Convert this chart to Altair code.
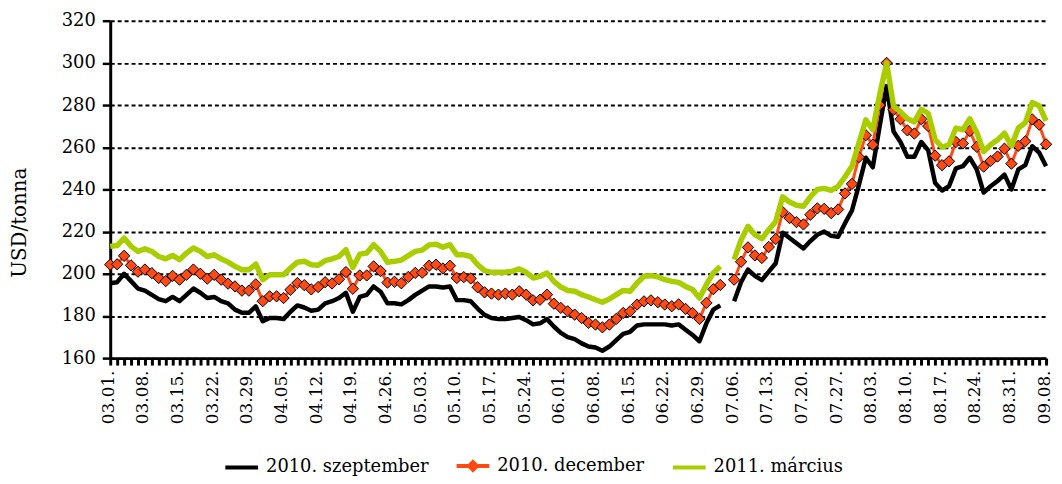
import json
import altair as alt
import pandas as pd

dates = [
    "03.01.", "03.02.", "03.03.", "03.04.", "03.05.", "03.08.", "03.09.", "03.10.", "03.11.", "03.12.",
    "03.15.", "03.16.", "03.17.", "03.18.", "03.19.", "03.22.", "03.23.", "03.24.", "03.25.", "03.26.",
    "03.29.", "03.30.", "03.31.", "04.01.", "04.02.", "04.05.", "04.06.", "04.07.", "04.08.", "04.09.",
    "04.12.", "04.13.", "04.14.", "04.15.", "04.16.", "04.19.", "04.20.", "04.21.", "04.22.", "04.23.",
    "04.26.", "04.27.", "04.28.", "04.29.", "04.30.", "05.03.", "05.04.", "05.05.", "05.06.", "05.07.",
    "05.10.", "05.11.", "05.12.", "05.13.", "05.14.", "05.17.", "05.18.", "05.19.", "05.20.", "05.21.",
    "05.24.", "05.25.", "05.26.", "05.27.", "05.28.", "06.01.", "06.02.", "06.03.", "06.04.", "06.07.",
    "06.08.", "06.09.", "06.10.", "06.11.", "06.14.", "06.15.", "06.16.", "06.17.", "06.18.", "06.21.",
    "06.22.", "06.23.", "06.24.", "06.25.", "06.28.", "06.29.", "06.30.", "07.01.", "07.02.", "07.05.",
    "07.06.", "07.07.", "07.08.", "07.09.", "07.12.", "07.13.", "07.14.", "07.15.", "07.16.", "07.19.",
    "07.20.", "07.21.", "07.22.", "07.23.", "07.26.", "07.27.", "07.28.", "07.29.", "07.30.", "08.02.",
    "08.03.", "08.04.", "08.05.", "08.06.", "08.09.", "08.10.", "08.11.", "08.12.", "08.13.", "08.16.",
    "08.17.", "08.18.", "08.19.", "08.20.", "08.23.", "08.24.", "08.25.", "08.26.", "08.27.", "08.30.",
    "08.31.", "09.01.", "09.02.", "09.03.", "09.07.", "09.08.",
]

tick_labels = [
    "03.01.", "03.08.", "03.15.", "03.22.", "03.29.", "04.05.", "04.12.", "04.19.", "04.26.", "05.03.",
    "05.10.", "05.17.", "05.24.", "06.01.", "06.08.", "06.15.", "06.22.", "06.29.", "07.06.", "07.13.",
    "07.20.", "07.27.", "08.03.", "08.10.", "08.17.", "08.24.", "08.31.", "09.08.",
]

y_ticks = [160, 180, 200, 220, 240, 260, 280, 300, 320]

series_names = ["2010. szeptember", "2010. december", "2011. március"]

sep_2010 = [
    195.5, 196, 200, 196.5, 193, 192, 190, 188, 187, 189,
    187, 190, 193, 191, 188.5, 189, 187, 186, 183, 181.5,
    181.5, 184.5, 177.5, 179, 179, 178.5, 182, 185, 184, 182.5,
    183, 186, 187, 188.5, 191, 182, 189, 190, 194, 191.5,
    186, 186, 185.5, 187.5, 190, 192, 194, 194, 193.5, 194,
    187.5, 187.5, 187, 183.5, 180.5, 179, 178.5, 178.5, 179, 179.5,
    178, 176, 176.5, 178.5, 175, 172, 170, 169, 167, 165.5,
    165, 163.5, 165.5, 168.5, 171.5, 172.5, 175.5, 176, 176, 176,
    176, 175.5, 176, 173.5, 171, 168, 176.5, 183, 185, None,
    187, 196, 202, 199, 197, 201, 205, 219.5, 217, 214.5,
    212, 215.5, 218.5, 220, 218, 217.5, 224, 230, 242, 255,
    250.5, 270, 289, 267.5, 262.5, 255.5, 255.5, 262.5, 258.5, 243,
    239.5, 241.5, 250, 251, 255, 249.5, 238.5, 241.5, 244, 247,
    240, 249.5, 251.5, 260.5, 257.5, 251,
]

dec_2010 = [
    204.3, 204.5, 208.5, 204, 201, 202, 200.3, 198, 196.5, 199,
    197.2, 199.5, 202, 200, 197.7, 199.5, 197.2, 195.3, 194, 192,
    192, 195, 187, 189.3, 189.3, 188.5, 192.4, 195.6, 194.6, 192.6,
    193.7, 196, 195.4, 197.4, 200.8, 192.9, 199.2, 199.2, 203.5, 201.3,
    195.8, 196.2, 195.5, 198.5, 200.4, 200.5, 203.8, 204.3, 202.5, 203.8,
    198, 198.4, 197.8, 193.6, 191.2, 190.6, 190.1, 190.6, 190.1, 191.7,
    190.1, 187.4, 187.7, 190.1, 185.8, 183.8, 182.2, 180.6, 179, 176.7,
    175.9, 174.6, 175.9, 178.6, 181.4, 182.2, 185.4, 186.9, 187.4, 186.5,
    185.4, 184.6, 185.5, 183.3, 181.4, 178.6, 186.2, 192.7, 194.7, None,
    197.2, 205.7, 212.5, 208.7, 207.5, 212.7, 216.5, 229.3, 226.4, 224.5,
    223.4, 228, 231, 230.8, 228.8, 230.5, 238.1, 242.6, 255.3, 265.7,
    261.2, 280, 300, 277.8, 273.3, 268, 266.5, 273.3, 270, 256,
    251.5, 253.3, 262.5, 261.8, 267.7, 260.2, 250.8, 253.5, 255.6, 259.3,
    252.2, 260.7, 262.8, 273.2, 270.7, 261.4,
]

mar_2011 = [
    213, 213.4, 216.9, 213, 210.6, 211.9, 210.6, 208.2, 207.1, 208.7,
    206.7, 209.8, 212.2, 210.6, 208.2, 209, 207.1, 205.5, 203.5, 201.9,
    201.9, 204.6, 197.2, 199.5, 199.5, 199.5, 202.7, 205.5, 205.9, 204.3,
    204, 206.2, 207.1, 208.2, 211.4, 203, 209.3, 209.8, 213.8, 210.6,
    205.5, 205.9, 206.5, 208.6, 210.6, 211.2, 213.7, 214, 212.6, 213.8,
    209, 209, 208.2, 204.3, 201.5, 200.7, 200.7, 200.7, 201.2, 202.3,
    200.7, 198, 198.8, 200.4, 196.4, 193.7, 192.1, 191.7, 190.1, 189,
    187.7, 186.5, 188, 190.1, 192.1, 191.7, 195.6, 198.8, 199.1, 198.5,
    197.2, 196.4, 195.9, 194, 192.5, 188.5, 194.8, 200.4, 203.5, None,
    206.7, 216, 222.5, 218.5, 216.6, 220.9, 224.8, 236.5, 234, 232.5,
    232, 236.5, 240, 240.5, 239.5, 241.4, 246, 251, 262, 273,
    268.3, 285, 300, 279.5, 276.8, 273.5, 272, 278, 276, 263.6,
    260, 261.2, 269.1, 268.3, 273.5, 267, 258, 261.2, 263.5, 266.7,
    260.6, 269.1, 271.6, 281.2, 279.7, 272.5,
]

colors = ["#000000", "#FF4A14", "#AACD00"]
legend_shapes = [
    "M-1,0L1,0",
    "M-1,0L1,0M0,-0.24L0.24,0L0,0.24L-0.24,0Z",
    "M-1,0L1,0",
]

rows = []
for name, vals in zip(series_names, [sep_2010, dec_2010, mar_2011]):
    for d, v in zip(dates, vals):
        rows.append({"date": d, "series": name, "value": v})
df = pd.DataFrame(rows)

FONT = "DejaVu Serif"
label_expr = "indexof(" + json.dumps(tick_labels) + ", datum.value) >= 0 ? datum.value : ''"

x_enc = alt.X(
    "date:O",
    sort=None,
    scale=alt.Scale(type="point", domain=dates, padding=0),
    axis=alt.Axis(
        title=None, labelExpr=label_expr, labelAngle=270, labelAlign="right",
        labelBaseline="middle", labelOverlap=False, labelFont=FONT, labelFontSize=17,
        labelColor="black", labelPadding=5, labelOffset=-2, tickSize=7, tickWidth=3,
        tickColor="black", domainColor="black", domainWidth=3, grid=False,
    ),
)
y_enc = alt.Y(
    "value:Q",
    scale=alt.Scale(domain=[160, 320], nice=False, zero=False),
    axis=alt.Axis(
        values=y_ticks, title="USD/tonna", titleFont=FONT, titleFontSize=20,
        titleFontWeight="normal", titleColor="black", titleAngle=270, titleX=-91, titleY=203,
        titleAlign="center", titleBaseline="middle",
        labelFont=FONT, labelFontSize=18, labelColor="black", labelPadding=7,
        tickSize=8, tickWidth=2.5, tickColor="black", domainColor="black", domainWidth=3,
        grid=True, gridColor="black", gridDash=[4, 3], gridWidth=2,
    ),
)

base = alt.Chart(df).encode(x=x_enc, y=y_enc)
INV = "break-paths-show-domains"

black = base.transform_filter(alt.datum.series == series_names[0]).mark_line(
    color=colors[0], strokeWidth=4.5, strokeJoin="round", invalid=INV)
red_line = base.transform_filter(alt.datum.series == series_names[1]).mark_line(
    color=colors[1], strokeWidth=3, strokeJoin="round", invalid=INV)
red_pts = base.transform_filter(alt.datum.series == series_names[1]).mark_point(
    shape="diamond", filled=True, fill=colors[1], stroke="black", strokeWidth=1,
    size=130, opacity=1, invalid=INV)
green = base.transform_filter(alt.datum.series == series_names[2]).mark_line(
    color=colors[2], strokeWidth=5.5, strokeJoin="round", invalid=INV)

leg = alt.Legend(
    orient="none", legendX=114, legendY=430, direction="horizontal", title=None,
    labelFont=FONT, labelFontSize=18, labelColor="black", labelLimit=400, symbolSize=1089,
    symbolStrokeWidth=4, labelOffset=6, columnPadding=20, symbolOpacity=1,
)
legend_layer = alt.Chart(df).transform_filter("false").mark_point(filled=True, opacity=1).encode(
    fill=alt.Fill("series:N", scale=alt.Scale(domain=series_names, range=colors), legend=leg),
    stroke=alt.Stroke("series:N", scale=alt.Scale(domain=series_names, range=colors), legend=leg),
    shape=alt.Shape("series:N", scale=alt.Scale(domain=series_names, range=legend_shapes), legend=leg),
)

chart = alt.layer(black, red_line, red_pts, green, legend_layer).properties(
    width=943, height=340,
    autosize=alt.AutoSizeParams(type="none"),
    padding={"left": 103, "top": 11, "right": 8, "bottom": 120},
    background="white",
).configure_view(stroke=None)

chart.save("out.html", embed_options={"renderer": "svg", "actions": False})
